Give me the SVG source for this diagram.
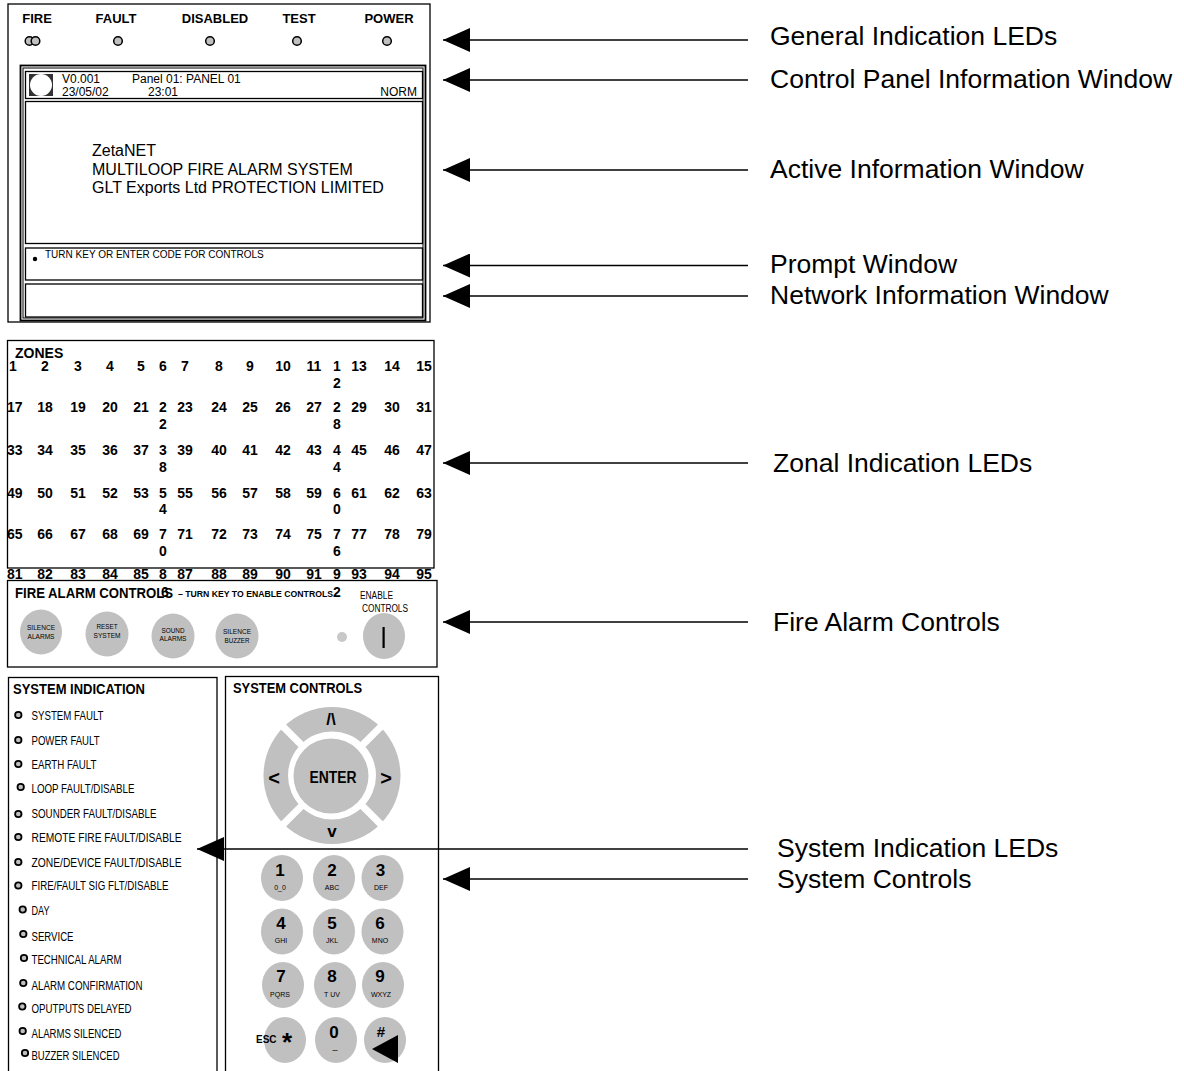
<svg xmlns="http://www.w3.org/2000/svg" width="1184" height="1071" viewBox="0 0 1184 1071">
<defs>
<style>
text{font-family:"Liberation Sans",Arial,sans-serif;fill:#000}
.b{font-weight:bold}
.box{fill:none;stroke:#000;stroke-width:1.3}
.led{fill:#c0c0c0;stroke:#000;stroke-width:1.5}
.sled{fill:#c0c0c0;stroke:#000;stroke-width:1.8}
.btn{fill:#c0c0c0}
.lbl{font-size:26.5px}
.zs{font-size:14px;font-weight:bold}
.zm{font-size:14px;font-weight:bold;text-anchor:middle}
.conn{stroke:#000;stroke-width:1.5;fill:none}
.bt{font-size:7px;text-anchor:middle}
.key{font-size:17px;font-weight:bold;text-anchor:middle}
.sub{font-size:7px;text-anchor:middle}
.si{font-size:12px}
.top{font-size:13px;font-weight:bold;text-anchor:middle}
</style>
<marker id="ah" markerUnits="userSpaceOnUse" markerWidth="27" markerHeight="24" refX="27" refY="12" orient="auto" viewBox="0 0 27 24">
<path d="M0,0 L27,12 L0,24 z" fill="#000"/>
</marker>
</defs>
<rect x="0" y="0" width="1184" height="1071" fill="#fff"/>

<g id="general-indication">
<rect class="box" x="8" y="4" width="422" height="318"/>
<text class="top" x="37" y="23">FIRE</text>
<text class="top" x="116" y="23">FAULT</text>
<text class="top" x="215" y="23">DISABLED</text>
<text class="top" x="299" y="23">TEST</text>
<text class="top" x="389" y="23">POWER</text>
<circle class="led" cx="29.5" cy="41" r="4.3"/>
<circle class="led" cx="35.5" cy="41" r="4.3"/>
<circle class="led" cx="118" cy="41" r="4.3"/>
<circle class="led" cx="210" cy="41" r="4.3"/>
<circle class="led" cx="297" cy="41" r="4.3"/>
<circle class="led" cx="387" cy="41" r="4.3"/>
</g>

<g id="display-frame">
<rect x="20.5" y="65.5" width="405" height="255" fill="none" stroke="#000" stroke-width="1.8"/>
<rect x="23" y="68" width="400" height="250" fill="none" stroke="#000" stroke-width="1"/>
</g>

<g id="control-panel-info-window">
<rect class="box" x="25.5" y="71.5" width="397" height="27"/>
<rect x="29" y="74" width="24" height="22" fill="#333"/>
<circle cx="41" cy="85" r="11" fill="#fff"/>
<text x="62" y="83" font-size="12">V0.001</text>
<text x="132" y="83" font-size="12">Panel 01: PANEL 01</text>
<text x="62" y="95.5" font-size="12">23/05/02</text>
<text x="148" y="95.5" font-size="12">23:01</text>
<text x="417" y="95.5" font-size="12" text-anchor="end">NORM</text>
</g>

<g id="active-info-window">
<rect class="box" x="25.5" y="101.5" width="397" height="142"/>
<text x="92" y="156" font-size="16">ZetaNET</text>
<text x="92" y="175" font-size="16">MULTILOOP FIRE ALARM SYSTEM</text>
<text x="92" y="193" font-size="16">GLT Exports Ltd PROTECTION LIMITED</text>
</g>

<g id="prompt-window">
<rect class="box" x="25.5" y="248" width="397" height="32"/>
<circle cx="35" cy="259" r="2.2" fill="#000"/>
<text x="45" y="258" font-size="10">TURN KEY OR ENTER CODE FOR CONTROLS</text>
</g>

<g id="network-info-window">
<rect class="box" x="25.5" y="284" width="397" height="33"/>
</g>

<g id="zones">
<rect class="box" x="7.5" y="340.5" width="426.5" height="227.5"/>
<text x="15" y="358" font-size="14" class="b">ZONES</text>
<!-- row 1 -->
<text class="zs" x="9" y="371">1</text>
<text class="zm" x="45" y="371">2</text>
<text class="zm" x="78" y="371">3</text>
<text class="zm" x="110" y="371">4</text>
<text class="zm" x="141" y="371">5</text>
<text class="zm" x="163" y="371">6</text>
<text class="zm" x="185" y="371">7</text>
<text class="zm" x="219" y="371">8</text>
<text class="zm" x="250" y="371">9</text>
<text class="zm" x="283" y="371">10</text>
<text class="zm" x="314" y="371">11</text>
<text class="zm" x="337" y="371">1</text>
<text class="zm" x="337" y="388">2</text>
<text class="zm" x="359" y="371">13</text>
<text class="zm" x="392" y="371">14</text>
<text class="zm" x="424" y="371">15</text>
<!-- row 2 -->
<text class="zs" x="7" y="412">17</text>
<text class="zm" x="45" y="412">18</text>
<text class="zm" x="78" y="412">19</text>
<text class="zm" x="110" y="412">20</text>
<text class="zm" x="141" y="412">21</text>
<text class="zm" x="163" y="412">2</text>
<text class="zm" x="163" y="429">2</text>
<text class="zm" x="185" y="412">23</text>
<text class="zm" x="219" y="412">24</text>
<text class="zm" x="250" y="412">25</text>
<text class="zm" x="283" y="412">26</text>
<text class="zm" x="314" y="412">27</text>
<text class="zm" x="337" y="412">2</text>
<text class="zm" x="337" y="429">8</text>
<text class="zm" x="359" y="412">29</text>
<text class="zm" x="392" y="412">30</text>
<text class="zm" x="424" y="412">31</text>
<!-- row 3 -->
<text class="zs" x="7" y="455">33</text>
<text class="zm" x="45" y="455">34</text>
<text class="zm" x="78" y="455">35</text>
<text class="zm" x="110" y="455">36</text>
<text class="zm" x="141" y="455">37</text>
<text class="zm" x="163" y="455">3</text>
<text class="zm" x="163" y="472">8</text>
<text class="zm" x="185" y="455">39</text>
<text class="zm" x="219" y="455">40</text>
<text class="zm" x="250" y="455">41</text>
<text class="zm" x="283" y="455">42</text>
<text class="zm" x="314" y="455">43</text>
<text class="zm" x="337" y="455">4</text>
<text class="zm" x="337" y="472">4</text>
<text class="zm" x="359" y="455">45</text>
<text class="zm" x="392" y="455">46</text>
<text class="zm" x="424" y="455">47</text>
<!-- row 4 -->
<text class="zs" x="7" y="498">49</text>
<text class="zm" x="45" y="498">50</text>
<text class="zm" x="78" y="498">51</text>
<text class="zm" x="110" y="498">52</text>
<text class="zm" x="141" y="498">53</text>
<text class="zm" x="163" y="498">5</text>
<text class="zm" x="163" y="514">4</text>
<text class="zm" x="185" y="498">55</text>
<text class="zm" x="219" y="498">56</text>
<text class="zm" x="250" y="498">57</text>
<text class="zm" x="283" y="498">58</text>
<text class="zm" x="314" y="498">59</text>
<text class="zm" x="337" y="498">6</text>
<text class="zm" x="337" y="514">0</text>
<text class="zm" x="359" y="498">61</text>
<text class="zm" x="392" y="498">62</text>
<text class="zm" x="424" y="498">63</text>
<!-- row 5 -->
<text class="zs" x="7" y="539">65</text>
<text class="zm" x="45" y="539">66</text>
<text class="zm" x="78" y="539">67</text>
<text class="zm" x="110" y="539">68</text>
<text class="zm" x="141" y="539">69</text>
<text class="zm" x="163" y="539">7</text>
<text class="zm" x="163" y="556">0</text>
<text class="zm" x="185" y="539">71</text>
<text class="zm" x="219" y="539">72</text>
<text class="zm" x="250" y="539">73</text>
<text class="zm" x="283" y="539">74</text>
<text class="zm" x="314" y="539">75</text>
<text class="zm" x="337" y="539">7</text>
<text class="zm" x="337" y="556">6</text>
<text class="zm" x="359" y="539">77</text>
<text class="zm" x="392" y="539">78</text>
<text class="zm" x="424" y="539">79</text>
<!-- row 6 -->
<text class="zs" x="7" y="579">81</text>
<text class="zm" x="45" y="579">82</text>
<text class="zm" x="78" y="579">83</text>
<text class="zm" x="110" y="579">84</text>
<text class="zm" x="141" y="579">85</text>
<text class="zm" x="163" y="579">8</text>
<text class="zm" x="185" y="579">87</text>
<text class="zm" x="219" y="579">88</text>
<text class="zm" x="250" y="579">89</text>
<text class="zm" x="283" y="579">90</text>
<text class="zm" x="314" y="579">91</text>
<text class="zm" x="337" y="579">9</text>
<text class="zm" x="359" y="579">93</text>
<text class="zm" x="392" y="579">94</text>
<text class="zm" x="424" y="579">95</text>
</g>

<g id="fire-alarm-controls">
<rect class="box" x="7.5" y="580.5" width="429.5" height="86.5"/>
<text x="15" y="598" font-size="14" class="b" textLength="158" lengthAdjust="spacingAndGlyphs">FIRE ALARM CONTROLS</text>
<text class="zm" x="165" y="597">6</text>
<text x="178" y="597" font-size="9.5" class="b" textLength="155" lengthAdjust="spacingAndGlyphs">– TURN KEY TO ENABLE CONTROLS</text>
<text class="zm" x="337" y="597">2</text>
<text x="360" y="599" font-size="10" textLength="33" lengthAdjust="spacingAndGlyphs">ENABLE</text>
<text x="362" y="612" font-size="10" textLength="46" lengthAdjust="spacingAndGlyphs">CONTROLS</text>
<ellipse class="btn" cx="41" cy="632" rx="21" ry="22.5"/>
<ellipse class="btn" cx="107" cy="634" rx="21.5" ry="22.5"/>
<ellipse class="btn" cx="173" cy="636" rx="21.5" ry="22.5"/>
<ellipse class="btn" cx="237" cy="636" rx="21.5" ry="22.5"/>
<text class="bt" x="41" y="630" textLength="28" lengthAdjust="spacingAndGlyphs">SILENCE</text>
<text class="bt" x="41" y="639" textLength="27" lengthAdjust="spacingAndGlyphs">ALARMS</text>
<text class="bt" x="107" y="629" textLength="21" lengthAdjust="spacingAndGlyphs">RESET</text>
<text class="bt" x="107" y="638" textLength="27" lengthAdjust="spacingAndGlyphs">SYSTEM</text>
<text class="bt" x="173" y="633" textLength="23" lengthAdjust="spacingAndGlyphs">SOUND</text>
<text class="bt" x="173" y="641" textLength="27" lengthAdjust="spacingAndGlyphs">ALARMS</text>
<text class="bt" x="237" y="634" textLength="28" lengthAdjust="spacingAndGlyphs">SILENCE</text>
<text class="bt" x="237" y="643" textLength="25" lengthAdjust="spacingAndGlyphs">BUZZER</text>
<circle cx="342" cy="637" r="5" fill="#c8c8c8"/>
<ellipse class="btn" cx="384" cy="636" rx="21" ry="23"/>
<rect x="382.5" y="627" width="2.2" height="21" fill="#000"/>
</g>

<g id="system-indication">
<rect class="box" x="8.5" y="677.5" width="208.5" height="400"/>
<text x="13" y="694" font-size="14" class="b" textLength="132" lengthAdjust="spacingAndGlyphs">SYSTEM INDICATION</text>
<circle class="sled" cx="18.3" cy="715" r="3.2"/>
<text class="si" x="31.5" y="719.5" textLength="72" lengthAdjust="spacingAndGlyphs">SYSTEM FAULT</text>
<circle class="sled" cx="18.3" cy="740" r="3.2"/>
<text class="si" x="31.5" y="745" textLength="68" lengthAdjust="spacingAndGlyphs">POWER FAULT</text>
<circle class="sled" cx="18.3" cy="764" r="3.2"/>
<text class="si" x="31.5" y="768.5" textLength="65" lengthAdjust="spacingAndGlyphs">EARTH FAULT</text>
<circle class="sled" cx="20.7" cy="787" r="3.2"/>
<text class="si" x="31.5" y="793" textLength="103" lengthAdjust="spacingAndGlyphs">LOOP FAULT/DISABLE</text>
<circle class="sled" cx="18.3" cy="814" r="3.2"/>
<text class="si" x="31.5" y="818" textLength="125" lengthAdjust="spacingAndGlyphs">SOUNDER FAULT/DISABLE</text>
<circle class="sled" cx="18.3" cy="837" r="3.2"/>
<text class="si" x="31.5" y="842" textLength="150" lengthAdjust="spacingAndGlyphs">REMOTE FIRE FAULT/DISABLE</text>
<circle class="sled" cx="18.3" cy="862" r="3.2"/>
<text class="si" x="31.5" y="866.5" textLength="150" lengthAdjust="spacingAndGlyphs">ZONE/DEVICE FAULT/DISABLE</text>
<circle class="sled" cx="18.3" cy="885.5" r="3.2"/>
<text class="si" x="31.5" y="890" textLength="137" lengthAdjust="spacingAndGlyphs">FIRE/FAULT SIG FLT/DISABLE</text>
<circle class="sled" cx="22.7" cy="909.5" r="3.2"/>
<text class="si" x="31.5" y="915" textLength="18" lengthAdjust="spacingAndGlyphs">DAY</text>
<circle class="sled" cx="23.3" cy="934" r="3.2"/>
<text class="si" x="31.5" y="940.5" textLength="42" lengthAdjust="spacingAndGlyphs">SERVICE</text>
<circle class="sled" cx="24" cy="958" r="3.2"/>
<text class="si" x="31.5" y="963.5" textLength="90" lengthAdjust="spacingAndGlyphs">TECHNICAL ALARM</text>
<circle class="sled" cx="23.3" cy="983" r="3.2"/>
<text class="si" x="31.5" y="989.5" textLength="111" lengthAdjust="spacingAndGlyphs">ALARM CONFIRMATION</text>
<circle class="sled" cx="22.3" cy="1006.5" r="3.2"/>
<text class="si" x="31.5" y="1013" textLength="100" lengthAdjust="spacingAndGlyphs">OPUTPUTS DELAYED</text>
<circle class="sled" cx="22.7" cy="1031" r="3.2"/>
<text class="si" x="31.5" y="1038" textLength="90" lengthAdjust="spacingAndGlyphs">ALARMS SILENCED</text>
<circle class="sled" cx="25" cy="1053" r="3.2"/>
<text class="si" x="31.5" y="1060" textLength="88" lengthAdjust="spacingAndGlyphs">BUZZER SILENCED</text>
</g>

<g id="system-controls">
<rect class="box" x="225.5" y="676.5" width="213" height="400"/>
<text x="233" y="693" font-size="14" class="b" textLength="129" lengthAdjust="spacingAndGlyphs">SYSTEM CONTROLS</text>
<circle cx="332" cy="775.5" r="68.5" fill="#c0c0c0"/>
<circle cx="332" cy="775.5" r="44" fill="#fff"/>
<g stroke="#fff" stroke-width="7">
<line x1="359" y1="748.5" x2="385" y2="722.5"/>
<line x1="305" y1="748.5" x2="279" y2="722.5"/>
<line x1="359" y1="802.5" x2="385" y2="828.5"/>
<line x1="305" y1="802.5" x2="279" y2="828.5"/>
</g>
<circle cx="331" cy="776" r="37.5" fill="#c0c0c0"/>
<text x="331" y="725" font-size="17" class="b" text-anchor="middle">/\</text>
<text x="274" y="785" font-size="20" class="b" text-anchor="middle">&lt;</text>
<text x="386" y="785" font-size="20" class="b" text-anchor="middle">&gt;</text>
<text x="333" y="783" font-size="16" class="b" text-anchor="middle" textLength="47" lengthAdjust="spacingAndGlyphs">ENTER</text>
<text x="332" y="837" font-size="17" class="b" text-anchor="middle">v</text>
<ellipse class="btn" cx="282" cy="878" rx="21" ry="23"/>
<ellipse class="btn" cx="334" cy="878" rx="21" ry="23"/>
<ellipse class="btn" cx="382.5" cy="878" rx="21" ry="23"/>
<ellipse class="btn" cx="282" cy="931.5" rx="21" ry="23"/>
<ellipse class="btn" cx="334" cy="931.5" rx="21" ry="23"/>
<ellipse class="btn" cx="382.5" cy="931.5" rx="21" ry="23"/>
<ellipse class="btn" cx="283" cy="985" rx="21" ry="23"/>
<ellipse class="btn" cx="335" cy="985" rx="21" ry="23"/>
<ellipse class="btn" cx="383" cy="985" rx="21" ry="23"/>
<ellipse class="btn" cx="285" cy="1040" rx="21" ry="23"/>
<ellipse class="btn" cx="336" cy="1040" rx="21" ry="23"/>
<ellipse class="btn" cx="385" cy="1040" rx="21" ry="23"/>
<text class="key" x="280" y="876">1</text>
<text class="sub" x="280" y="890">0_0</text>
<text class="key" x="332" y="876">2</text>
<text class="sub" x="332" y="890">ABC</text>
<text class="key" x="380.5" y="876">3</text>
<text class="sub" x="381" y="890">DEF</text>
<text class="key" x="281" y="928.5">4</text>
<text class="sub" x="281" y="943">GHI</text>
<text class="key" x="332" y="928.5">5</text>
<text class="sub" x="332" y="943">JKL</text>
<text class="key" x="380" y="928.5">6</text>
<text class="sub" x="380" y="943">MNO</text>
<text class="key" x="281" y="982">7</text>
<text class="sub" x="280" y="997">PQRS</text>
<text class="key" x="332" y="982">8</text>
<text class="sub" x="332" y="997">T UV</text>
<text class="key" x="380" y="982">9</text>
<text class="sub" x="381" y="997">WXYZ</text>
<text x="256" y="1043" font-size="10" class="b">ESC</text>
<text x="287" y="1051" font-size="26" class="b" text-anchor="middle">*</text>
<text class="key" x="334" y="1038">0</text>
<text x="335" y="1049" font-size="9" text-anchor="middle">_</text>
<text x="381" y="1037" font-size="15" class="b" text-anchor="middle">#</text>
</g>

<g id="connectors">
<line class="conn" x1="748" y1="40" x2="443" y2="40" marker-end="url(#ah)"/>
<line class="conn" x1="748" y1="80" x2="443" y2="80" marker-end="url(#ah)"/>
<line class="conn" x1="748" y1="170" x2="443" y2="170" marker-end="url(#ah)"/>
<line class="conn" x1="748" y1="265.5" x2="443" y2="265.5" marker-end="url(#ah)"/>
<line class="conn" x1="748" y1="296" x2="443" y2="296" marker-end="url(#ah)"/>
<line class="conn" x1="748" y1="463" x2="443" y2="463" marker-end="url(#ah)"/>
<line class="conn" x1="748" y1="622" x2="443" y2="622" marker-end="url(#ah)"/>
<line class="conn" x1="748" y1="849" x2="197" y2="849" marker-end="url(#ah)"/>
<line class="conn" x1="748" y1="879" x2="443" y2="879" marker-end="url(#ah)"/>
<polygon points="372,1049 398,1035 398,1063" fill="#000"/>
<text class="lbl" x="770" y="45">General Indication LEDs</text>
<text class="lbl" x="770" y="88">Control Panel Information Window</text>
<text class="lbl" x="770" y="178">Active Information Window</text>
<text class="lbl" x="770" y="273">Prompt Window</text>
<text class="lbl" x="770" y="304">Network Information Window</text>
<text class="lbl" x="773" y="472">Zonal Indication LEDs</text>
<text class="lbl" x="773" y="631">Fire Alarm Controls</text>
<text class="lbl" x="777" y="857">System Indication LEDs</text>
<text class="lbl" x="777" y="888">System Controls</text>
</g>
</svg>
